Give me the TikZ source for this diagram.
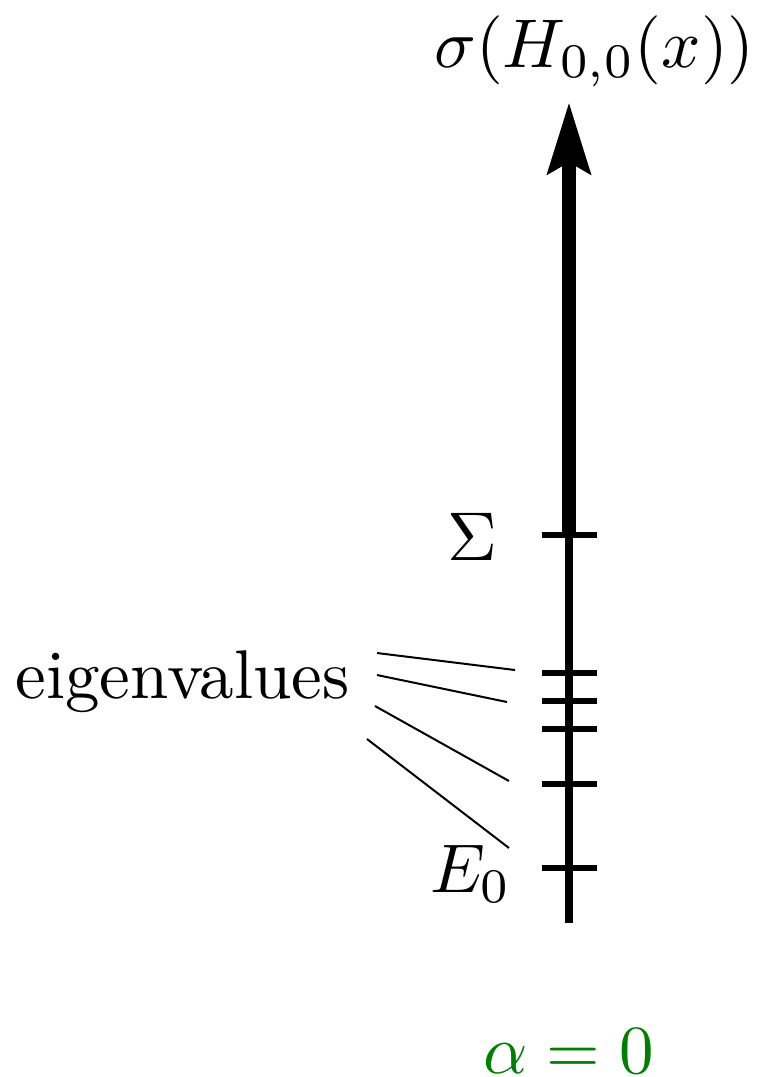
\documentclass[tikz,border=0pt]{standalone}
\usetikzlibrary{arrows.meta}
\definecolor{alphagreen}{RGB}{0,128,0}
\begin{document}
\begin{tikzpicture}[x=0.145pt,y=-0.145pt,
  lbl/.style={inner sep=0pt,outer sep=0pt,anchor=base},
  tickmark/.style={line width=6*0.145pt,line cap=butt},
  pointer/.style={line width=2*0.145pt,line cap=butt},
  upperaxis/.style={line width=14*0.145pt,line cap=butt,
    -{Stealth[length=71*0.145pt,width=42*0.145pt,inset=11*0.145pt]}},
  loweraxis/.style={line width=8*0.145pt,line cap=butt}]
\useasboundingbox (0,0) rectangle (762,1077);
% axis
\coordinate (bot) at (569,923);
\coordinate (sig) at (569,535);
\coordinate (top) at (569,102);
\draw[loweraxis] (bot) -- (sig);
\draw[upperaxis] (sig) -- (top);
% ticks
\foreach \y/\n in {535/tS,673/t1,701/t2,729/t3,784/t4,868/t5}{
  \coordinate (\n L) at (542,\y);
  \coordinate (\n R) at (597,\y);
  \draw[tickmark] (\n L) -- (\n R);
}
% labels
\node[lbl] (title) at (594.5,67) {$\sigma(H_{0,0}(x))$};
\node[lbl] (Sigma) at (472.5,560) {$\Sigma$};
\node[lbl] (E0) at (471,892) {$E_0$};
\node[lbl] (eig) at (182.5,698) {eigenvalues};
\node[lbl,text=alphagreen] (alpha) at (568.5,1073) {$\alpha=0$};
% pointer lines
\coordinate (p1s) at (377,653); \coordinate (p1e) at (515,670);
\coordinate (p2s) at (377,675); \coordinate (p2e) at (507,702);
\coordinate (p3s) at (375,706); \coordinate (p3e) at (509,781);
\coordinate (p4s) at (367,739); \coordinate (p4e) at (509,848);
\draw[pointer] (p1s) -- (p1e);
\draw[pointer] (p2s) -- (p2e);
\draw[pointer] (p3s) -- (p3e);
\draw[pointer] (p4s) -- (p4e);
\end{tikzpicture}
\end{document}
